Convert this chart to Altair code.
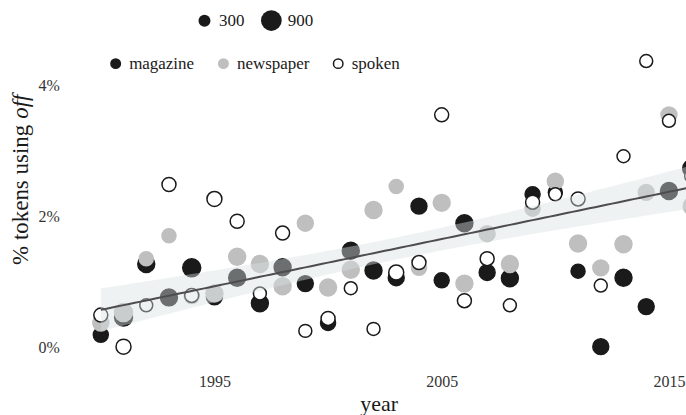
import altair as alt
import pandas as pd
import numpy as np

years = list(range(1990, 2017))
types = ["magazine", "newspaper", "spoken"]

# % of tokens using "off"
magazine_pct = [0.20, 0.47, 1.28, 0.77, 1.22, 0.78, 1.07, 0.68, 1.23, 0.98,
                0.38, 1.48, 1.18, 1.07, 2.16, 1.03, 1.90, 1.15, 1.06, 2.34,
                2.37, 1.17, 0.02, 1.07, 0.63, 2.39, 2.73]
newspaper_pct = [0.38, 0.54, 1.36, 1.71, 0.79, 0.83, 1.39, 1.28, 0.94, 1.90,
                 0.92, 1.19, 2.10, 2.46, 1.22, 2.21, 0.98, 1.74, 1.28, 2.12,
                 2.54, 1.59, 1.22, 1.58, 2.37, 3.55, 2.16]
spoken_pct = [0.50, 0.02, 0.65, 2.49, 0.80, 2.27, 1.93, 0.83, 1.75, 0.26,
              0.45, 0.91, 0.29, 1.15, 1.30, 3.55, 0.72, 1.36, 0.65, 2.22,
              2.34, 2.27, 0.95, 2.92, 4.37, 3.46, 2.62]

# token counts (point size)
magazine_n = [470, 675, 600, 600, 675, 530, 600, 600, 600, 530,
              470, 600, 600, 530, 530, 470, 600, 530, 600, 470,
              410, 410, 530, 600, 530, 600, 675]
newspaper_n = [530, 675, 410, 410, 470, 600, 600, 600, 600, 530,
               600, 600, 600, 410, 470, 600, 600, 530, 600, 470,
               530, 600, 530, 600, 530, 530, 600]
spoken_n = [410, 470, 350, 410, 410, 470, 410, 350, 410, 350,
            410, 350, 350, 470, 410, 410, 410, 410, 350, 410,
            350, 410, 350, 350, 350, 350, 410]

# trend line (value at first and last year)
fit_years = [1990, 2016]
fit_values = [0.58, 2.45]

size_legend_values = [300, 900]
x_tick_values = [1995, 2005, 2015]
y_tick_values = [0, 2, 4]

rows = []
for t, pcts, ns in [("magazine", magazine_pct, magazine_n),
                    ("newspaper", newspaper_pct, newspaper_n),
                    ("spoken", spoken_pct, spoken_n)]:
    for yr, p, n in zip(years, pcts, ns):
        rows.append({"year": yr, "pct": p, "n": n, "type": t})
df = pd.DataFrame(rows)

# 95% confidence band around the trend, width from the points' scatter
xv = df["year"].to_numpy(dtype=float)
yv = df["pct"].to_numpy(dtype=float)
nobs = len(xv)
b1 = (fit_values[1] - fit_values[0]) / (fit_years[1] - fit_years[0])
b0 = fit_values[0] - b1 * fit_years[0]
resid = yv - (b0 + b1 * xv)
s = np.sqrt(np.sum(resid ** 2) / (nobs - 2))
sxx = np.sum((xv - xv.mean()) ** 2)
xg = np.linspace(fit_years[0], fit_years[1], 105)
se = s * np.sqrt(1.0 / nobs + (xg - xv.mean()) ** 2 / sxx)
tcrit = 1.990
fit = pd.DataFrame({"year": xg, "fit": b0 + b1 * xg,
                    "lo": b0 + b1 * xg - tcrit * se,
                    "hi": b0 + b1 * xg + tcrit * se})

FONT = "Liberation Serif"
DARK = "#1a1a1a"
GREY = "#bfbfbf"

xscale = alt.Scale(domain=[1988.7, 2015.75], nice=False, zero=False)
yscale = alt.Scale(domain=[-0.2, 4.6], nice=False, zero=False)

xaxis = alt.Axis(values=x_tick_values, format="d", title="year",
                 titleBaseline="alphabetic", titleY=50, titleFontSize=22,
                 titleFontWeight="normal", titleColor=DARK, titleFont=FONT,
                 labelFont=FONT, labelFontSize=16, labelColor="#333333",
                 labelPadding=12)
yaxis = alt.Axis(values=y_tick_values, labelExpr="datum.value + '%'",
                 labelFont=FONT, labelFontSize=16, labelColor="#333333",
                 title=None, labelPadding=12)

type_legend = alt.Legend(title=None, orient="none", direction="horizontal",
                         legendX=36, legendY=9, symbolSize=90,
                         symbolStrokeWidth=1.5, labelFontSize=17,
                         labelOffset=5, columnPadding=20, labelFont=FONT,
                         labelColor=DARK, symbolType="circle")

points = alt.Chart(df).mark_circle(opacity=1, strokeWidth=1.5, clip=True).encode(
    x=alt.X("year:Q", scale=xscale, axis=xaxis),
    y=alt.Y("pct:Q", scale=yscale, axis=yaxis),
    fill=alt.Fill("type:N", scale=alt.Scale(domain=types, range=[DARK, GREY, "#ffffff"]),
                  legend=type_legend),
    stroke=alt.Stroke("type:N", scale=alt.Scale(domain=types, range=[DARK, GREY, DARK]),
                      legend=type_legend),
    size=alt.Size("n:Q", scale=alt.Scale(domain=[0, 1000], range=[0, 480], zero=True),
                  legend=alt.Legend(title=None, orient="none", direction="horizontal",
                                    legendX=125, legendY=-36, values=size_legend_values,
                                    labelFontSize=17, labelOffset=6, columnPadding=16,
                                    labelFont=FONT, labelColor=DARK,
                                    symbolFillColor=DARK, symbolStrokeWidth=0,
                                    symbolType="circle")),
)

band = alt.Chart(fit).mark_area(color="#dae0e0", opacity=0.43, clip=True).encode(
    x=alt.X("year:Q", scale=xscale),
    y=alt.Y("lo:Q", scale=yscale),
    y2="hi:Q",
)

line = alt.Chart(fit).mark_line(color="#4d4d4d", strokeWidth=2, clip=True).encode(
    x=alt.X("year:Q", scale=xscale),
    y=alt.Y("fit:Q", scale=yscale),
)

title_main = alt.Chart(pd.DataFrame({"t": ["% tokens using"]})).mark_text(
    angle=270, align="right", baseline="alphabetic", font=FONT, fontSize=23,
    color=DARK).encode(text="t:N", x=alt.value(-43), y=alt.value(79))

title_off = alt.Chart(pd.DataFrame({"t": ["off"]})).mark_text(
    angle=270, align="left", baseline="alphabetic", font=FONT, fontSize=23,
    fontStyle="italic", color=DARK).encode(text="t:N", x=alt.value(-43), y=alt.value(73))

chart = alt.layer(points, band, line, title_main, title_off).properties(
    width=616, height=315.8,
    padding={"left": 71.4, "top": 45.6, "right": 0, "bottom": 54},
    autosize=alt.AutoSizeParams(type="none"),
).configure(font=FONT).configure_view(stroke=None).configure_axis(
    grid=False, domain=False, ticks=False, tickSize=0,
    labelFont=FONT, labelFontSize=16, labelColor="#333333",
    titleFont=FONT,
).configure_legend(labelFont=FONT)

chart.save("out.html", embed_options={"renderer": "svg", "actions": False})
